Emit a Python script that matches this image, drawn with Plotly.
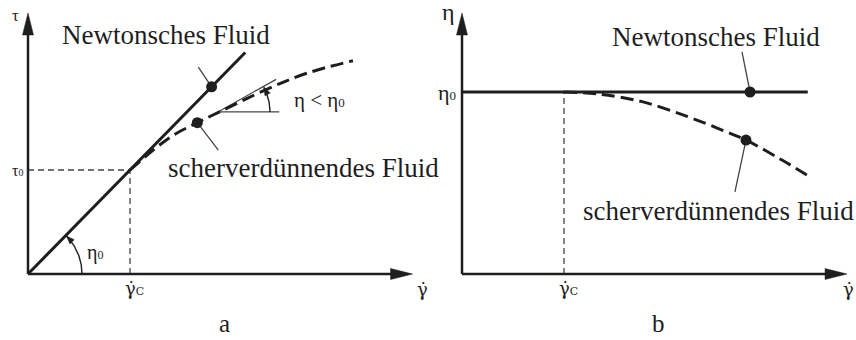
import numpy as np
import plotly.graph_objects as go

# ---------------------------------------------------------------
# Panel a: shear stress tau over shear rate (units: gamma_c = 1, tau_0 = 1, eta_0 = 1)
# ---------------------------------------------------------------
gamma_c = 1.0
tau_0 = 1.0
eta_0 = 1.0

newton_a_x = [0.0, 2.13]
newton_a_y = [0.0, 2.13]
thinning_a_x = [1.0, 1.392, 1.66, 1.882, 2.34, 2.732, 3.186]
thinning_a_y = [1.0, 1.314, 1.455, 1.561, 1.776, 1.93, 2.051]

dot_newton_a = (1.80, 1.80)
dot_thin_a = (1.66, 1.455)
lead_newton_a = (1.67, 1.99)
lead_thin_a = (1.866, 1.192)

tangent_point_a = (1.863, 1.558)
eta_tangent = 0.55          # local slope d tau / d gamma at tangent_point_a
tangent_run_a = 0.57        # gamma extent of the drawn tangent
horizontal_run_a = 0.60     # gamma extent of the horizontal reference

axis_a_x_end = 3.77
axis_a_y_end = 2.51

# ---------------------------------------------------------------
# Panel b: viscosity eta over shear rate
# ---------------------------------------------------------------
newton_b_x = [0.0, 3.39]
newton_b_y = [1.0, 1.0]
thinning_b_x = [1.0, 1.333, 1.765, 2.216, 2.549, 2.784, 3.137, 3.431]
thinning_b_y = [1.0, 0.989, 0.947, 0.864, 0.791, 0.736, 0.626, 0.527]

dot_newton_b = (2.824, 1.0)
dot_thin_b = (2.784, 0.736)
lead_newton_b = (2.745, 1.22)
lead_thin_b = (2.676, 0.451)

axis_b_x_end = 3.775
axis_b_y_end = 1.434

# ---------------------------------------------------------------
# Layout geometry (pixels)
# ---------------------------------------------------------------
W, H = 856, 340
UX = 102.0                 # px per shear-rate unit (both panels)
UY_A, UY_B = 104.0, 182.0  # px per tau unit / eta unit
ORIG_A = (28, 274)
ORIG_B = (462, 274)

INK = "#1e1e1e"
THIN = "#444444"
FONT = "Liberation Serif"

fig = go.Figure()

PANELS = {
    "a": dict(xa="x", ya="y", uy=UY_A),
    "b": dict(xa="x2", ya="y2", uy=UY_B),
}


def line(panel, xs, ys, width=3, dash=None, color=INK, shape="linear"):
    p = PANELS[panel]
    fig.add_trace(go.Scatter(
        x=xs, y=ys, xaxis=p["xa"], yaxis=p["ya"], mode="lines",
        line=dict(color=color, width=width, dash=dash, shape=shape, smoothing=1.0),
        hoverinfo="skip", showlegend=False))


def dot(panel, pt):
    p = PANELS[panel]
    fig.add_trace(go.Scatter(
        x=[pt[0]], y=[pt[1]], xaxis=p["xa"], yaxis=p["ya"], mode="markers",
        marker=dict(color=INK, size=11), hoverinfo="skip", showlegend=False))


def head(panel, tip, angle_deg, length, half_w):
    """Filled triangular arrow head; size given in pixels."""
    p = PANELS[panel]
    t = np.radians(angle_deg)
    d = np.array([np.cos(t), np.sin(t)])
    n = np.array([-np.sin(t), np.cos(t)])
    pts = [np.zeros(2), -length * d + half_w * n, -length * d - half_w * n, np.zeros(2)]
    xs = [tip[0] + v[0] / UX for v in pts]
    ys = [tip[1] + v[1] / p["uy"] for v in pts]
    fig.add_trace(go.Scatter(
        x=xs, y=ys, xaxis=p["xa"], yaxis=p["ya"], mode="lines", fill="toself",
        fillcolor=INK, line=dict(color=INK, width=0.5),
        hoverinfo="skip", showlegend=False))


def arc(panel, centre, radius, a0, a1, width=1.4):
    p = PANELS[panel]
    t = np.radians(np.linspace(a0, a1, 40))
    xs = centre[0] + radius * np.cos(t) / UX
    ys = centre[1] + radius * np.sin(t) / p["uy"]
    line(panel, xs, ys, width=width, color=INK)
    head(panel, (xs[-1], ys[-1]), a1 + 90, 8, 3)


def axes(panel, x_end, y_end):
    p = PANELS[panel]
    hl = 22
    line(panel, [0, x_end - (hl - 2) / UX], [0, 0], width=2.5)
    line(panel, [0, 0], [0, y_end - (hl - 2) / p["uy"]], width=2.5)
    head(panel, (x_end, 0), 0, hl, 5.5)
    head(panel, (0, y_end), 90, hl, 5.5)


# ----- panel a -----
line("a", [0, gamma_c], [tau_0, tau_0], width=1.3, dash="6px,4px", color=THIN)
line("a", [gamma_c, gamma_c], [0, tau_0], width=1.3, dash="6px,4px", color=THIN)
axes("a", axis_a_x_end, axis_a_y_end)

tx, ty = tangent_point_a
line("a", [tx, tx + horizontal_run_a], [ty, ty], width=1.2, color=THIN)
line("a", [tx, tx + tangent_run_a], [ty, ty + eta_tangent * tangent_run_a], width=1.2, color=THIN)

line("a", newton_a_x, newton_a_y, width=3)
line("a", thinning_a_x, thinning_a_y, width=3, dash="13px,6px", shape="spline")

line("a", [dot_newton_a[0], lead_newton_a[0]], [dot_newton_a[1], lead_newton_a[1]], width=1.3, color=THIN)
line("a", [dot_thin_a[0], lead_thin_a[0]], [dot_thin_a[1], lead_thin_a[1]], width=1.3, color=THIN)
dot("a", dot_newton_a)
dot("a", dot_thin_a)

ang_eta0 = np.degrees(np.arctan2(newton_a_y[1] * UY_A, newton_a_x[1] * UX))
arc("a", (0, 0), 54, 0, ang_eta0 - 1)
ang_eta = np.degrees(np.arctan(eta_tangent * UY_A / UX))
arc("a", tangent_point_a, 52, 0, ang_eta - 1)

# ----- panel b -----
line("b", [gamma_c, gamma_c], [0, eta_0], width=1.3, dash="6px,4px", color=THIN)
axes("b", axis_b_x_end, axis_b_y_end)
line("b", newton_b_x, newton_b_y, width=3)
line("b", thinning_b_x, thinning_b_y, width=3, dash="13px,6px", shape="spline")
line("b", [dot_newton_b[0], lead_newton_b[0]], [dot_newton_b[1], lead_newton_b[1]], width=1.3, color=THIN)
line("b", [dot_thin_b[0], lead_thin_b[0]], [dot_thin_b[1], lead_thin_b[1]], width=1.3, color=THIN)
dot("b", dot_newton_b)
dot("b", dot_thin_b)


# ----- labels -----
def label(panel, x, y, text, size, xanchor="center", family=FONT):
    p = PANELS[panel]
    fig.add_annotation(x=x, y=y, xref=p["xa"], yref=p["ya"], text=text,
                       showarrow=False, xanchor=xanchor, yanchor="middle",
                       font=dict(family=family, size=size, color=INK))


def sub(t, size):
    return f"<span style='font-size:{size}px'>{t}</span>"


GDOT = "\u03b3\u0307"   # gamma with combining dot above


def gamma_dot(panel, x, y, size=18, index=None, xanchor="center"):
    text = GDOT + (sub(index, 11) if index else "")
    label(panel, x, y, text, size, xanchor=xanchor, family="DejaVu Serif")


label("a", 1.348, 2.298, "Newtonsches Fluid", 27)
label("a", 2.70, 1.019, "scherverdünnendes Fluid", 27)
label("a", 2.86, 1.673, "η &lt; η" + sub("0", 13), 21)
label("a", 0.657, 0.202, "η" + sub("0", 12), 20)
label("a", -0.125, 2.49, "τ", 17)
label("a", -0.03, tau_0, "τ" + sub("0", 10), 16, xanchor="right")
gamma_dot("a", gamma_c - 0.065, -0.135, index="C", xanchor="left")
gamma_dot("a", 3.865, -0.15)
label("a", 1.931, -0.477, "a", 25)

label("b", 2.495, 1.304, "Newtonsches Fluid", 27)
label("b", 2.51, 0.344, "scherverdünnendes Fluid", 27)
label("b", -0.137, 1.44, "η", 24)
label("b", -0.04, eta_0, "η" + sub("0", 13), 22, xanchor="right")
gamma_dot("b", gamma_c - 0.065, -0.077, index="C", xanchor="left")
gamma_dot("b", 3.785, -0.086)
label("b", 1.922, -0.272, "b", 25)

hidden = dict(visible=False, showgrid=False, zeroline=False, fixedrange=True)
fig.update_layout(
    width=W, height=H, margin=dict(l=0, r=0, t=0, b=0),
    paper_bgcolor="white", plot_bgcolor="white", showlegend=False,
    xaxis=dict(domain=[0, 0.5], range=[-ORIG_A[0] / UX, (W / 2 - ORIG_A[0]) / UX], **hidden),
    yaxis=dict(domain=[0, 1], range=[-(H - ORIG_A[1]) / UY_A, ORIG_A[1] / UY_A], **hidden),
    xaxis2=dict(domain=[0.5, 1], range=[-(ORIG_B[0] - W / 2) / UX, (W - ORIG_B[0]) / UX], **hidden),
    yaxis2=dict(domain=[0, 1], range=[-(H - ORIG_B[1]) / UY_B, ORIG_B[1] / UY_B], anchor="x2", **hidden),
)

fig.write_html("out.html")
